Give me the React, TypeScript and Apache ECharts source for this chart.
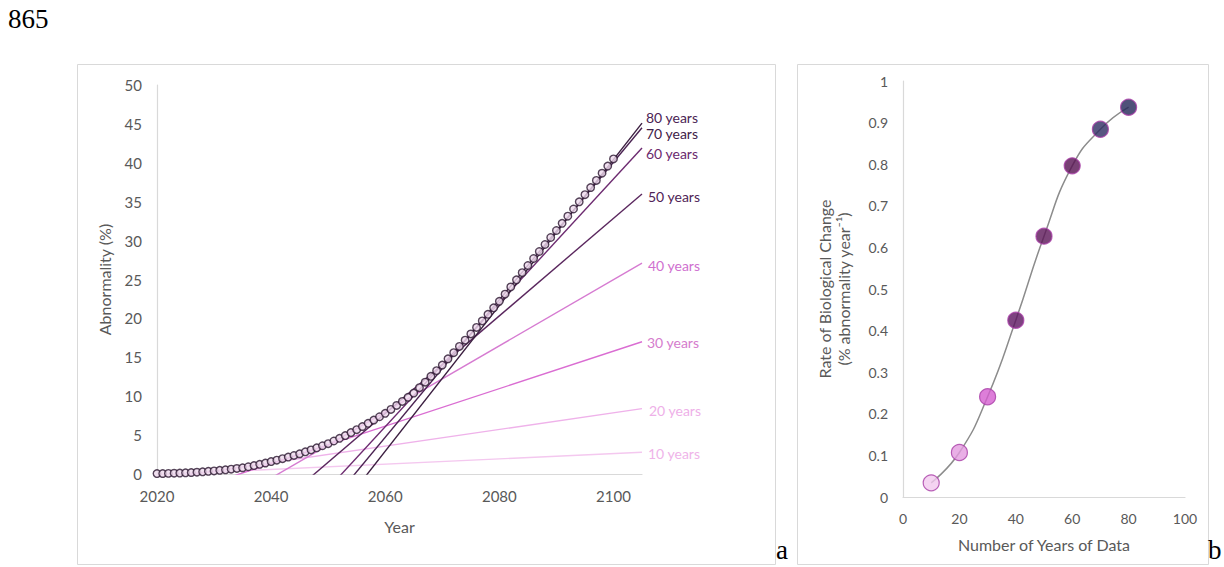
import React, { useEffect, useRef } from "react";
import * as echarts from "echarts";

// ---- Panel a: observed abnormality trajectory ----
const years = [
  2020, 2021, 2022, 2023, 2024, 2025, 2026, 2027, 2028, 2029,
  2030, 2031, 2032, 2033, 2034, 2035, 2036, 2037, 2038, 2039,
  2040, 2041, 2042, 2043, 2044, 2045, 2046, 2047, 2048, 2049,
  2050, 2051, 2052, 2053, 2054, 2055, 2056, 2057, 2058, 2059,
  2060, 2061, 2062, 2063, 2064, 2065, 2066, 2067, 2068, 2069,
  2070, 2071, 2072, 2073, 2074, 2075, 2076, 2077, 2078, 2079,
  2080, 2081, 2082, 2083, 2084, 2085, 2086, 2087, 2088, 2089,
  2090, 2091, 2092, 2093, 2094, 2095, 2096, 2097, 2098, 2099,
  2100,
];
const abnormality = [
  0.05, 0.06, 0.08, 0.1, 0.12, 0.15, 0.19, 0.23, 0.28, 0.34,
  0.4, 0.47, 0.54, 0.62, 0.71, 0.8, 0.93, 1.08, 1.24, 1.41,
  1.6, 1.78, 1.97, 2.17, 2.38, 2.6, 2.85, 3.1, 3.36, 3.63,
  3.9, 4.24, 4.58, 4.94, 5.32, 5.7, 6.1, 6.51, 6.93, 7.36,
  7.8, 8.3, 8.81, 9.33, 9.86, 10.4, 11.1, 11.8, 12.55, 13.28,
  14.0, 14.8, 15.6, 16.4, 17.2, 18.0, 18.84, 19.68, 20.52, 21.36,
  22.2, 23.12, 24.04, 24.96, 25.88, 26.8, 27.7, 28.6, 29.5, 30.4,
  31.3, 32.22, 33.14, 34.06, 34.98, 35.9, 36.82, 37.74, 38.66, 39.58,
  40.5,
];

// Linear fits (slope = rate, value at the axis end 2105)
const fitLabels = ["10 years", "20 years", "30 years", "40 years", "50 years", "60 years", "70 years", "80 years"];
const fitEndValues = [2.8, 8.4, 17.0, 27.1, 36.0, 41.9, 44.5, 45.1];
const fitFromYear = 2020;
const fitToYear = 2105;

// ---- Panel b: rate of change vs years of data ----
const yearsOfData = [10, 20, 30, 40, 50, 60, 70, 80];
const rateOfChange = [0.034, 0.107, 0.241, 0.425, 0.627, 0.796, 0.884, 0.937];

// styles
const fitLineColors = ["#f4c8ef", "#efb2ea", "#da6dd2", "#d67bd1", "#5a275e", "#6d2b70", "#4a2352", "#3b1e40"];
const fitLabelColors = ["#efb4e9", "#eeb0e8", "#d57ccd", "#cf70cf", "#4f2456", "#6b2a6e", "#3f2148", "#4b2454"];
const fitLabelOffsets = [[2, 1], [3, 2], [1, 1], [2, 2], [2, 3], [0, 5], [0, 6], [0, -6]];
const pointColors = ["#f3c9ef", "#e39be0", "#d45ecf", "#5c1460", "#5b1558", "#561251", "#2e2c62", "#232658"];

const FONT = "Lato, 'Open Sans', sans-serif";
const GREY = "#595959";
const SERIF = "27px 'Liberation Serif', 'Times New Roman', serif";

export default function App() {
  const ref = useRef<HTMLDivElement>(null);

  useEffect(() => {
    if (!ref.current) return;
    const chart = echarts.init(ref.current, undefined, { renderer: "svg" });

    const fitSeries = fitLabels.map((name, i) => {
      const rate = rateOfChange[i];
      const end = fitEndValues[i];
      return {
        type: "line",
        name,
        xAxisIndex: 0,
        yAxisIndex: 0,
        data: [
          [fitFromYear, end - (fitToYear - fitFromYear) * rate],
          [fitToYear, end],
        ],
        symbol: "none",
        clip: true,
        z: 2,
        lineStyle: { color: fitLineColors[i], width: 1.4 },
        endLabel: {
          show: true,
          formatter: "{a}",
          color: fitLabelColors[i],
          fontSize: 14,
          fontFamily: FONT,
          distance: 4,
          offset: fitLabelOffsets[i],
        },
      };
    });

    const plain = (v: number) => String(v);

    const option: any = {
      animation: false,
      backgroundColor: "#ffffff",
      textStyle: { fontFamily: FONT },
      grid: [
        { left: 157, top: 85, width: 485, height: 389 },
        { left: 903, top: 81, width: 282, height: 416 },
      ],
      xAxis: [
        {
          type: "value",
          gridIndex: 0,
          min: 2020,
          max: 2105,
          interval: 20,
          name: "Year",
          nameLocation: "middle",
          nameGap: 44,
          nameTextStyle: { color: GREY, fontSize: 16, fontFamily: FONT },
          axisLine: { lineStyle: { color: "#d9d9d9", width: 1.2 } },
          axisTick: { show: false },
          splitLine: { show: false },
          axisLabel: { color: GREY, fontSize: 15, fontFamily: FONT, margin: 14, showMaxLabel: false, formatter: plain },
        },
        {
          type: "value",
          gridIndex: 1,
          min: 0,
          max: 100,
          interval: 20,
          name: "Number of Years of Data",
          nameLocation: "middle",
          nameGap: 39,
          nameTextStyle: { color: GREY, fontSize: 16, fontFamily: FONT },
          axisLine: { lineStyle: { color: "#d9d9d9", width: 1.2 } },
          axisTick: { show: false },
          splitLine: { show: false },
          axisLabel: { color: GREY, fontSize: 14, fontFamily: FONT, margin: 14, formatter: plain },
        },
      ],
      yAxis: [
        {
          type: "value",
          gridIndex: 0,
          min: 0,
          max: 50,
          interval: 5,
          name: "Abnormality (%)",
          nameLocation: "middle",
          nameGap: 45,
          nameTextStyle: { color: GREY, fontSize: 16, fontFamily: FONT },
          axisLine: { show: true, lineStyle: { color: "#d9d9d9", width: 1.2 } },
          axisTick: { show: false },
          splitLine: { show: false },
          axisLabel: { color: GREY, fontSize: 15, fontFamily: FONT, margin: 15 },
        },
        {
          type: "value",
          gridIndex: 1,
          min: 0,
          max: 1,
          interval: 0.1,
          name: "Rate of Biological Change\n(% abnormality year⁻¹)",
          nameLocation: "middle",
          nameGap: 50,
          nameTextStyle: { color: GREY, fontSize: 16, fontFamily: FONT, lineHeight: 19 },
          axisLine: { show: true, lineStyle: { color: "#d9d9d9", width: 1.2 } },
          axisTick: { show: false },
          splitLine: { show: false },
          axisLabel: { color: GREY, fontSize: 14, fontFamily: FONT, margin: 15 },
        },
      ],
      series: [
        ...fitSeries,
        {
          type: "scatter",
          name: "Abnormality",
          xAxisIndex: 0,
          yAxisIndex: 0,
          data: years.map((y, i) => [y, abnormality[i]]),
          symbol: "circle",
          symbolSize: 7.5,
          z: 5,
          itemStyle: { color: "#eedaec", borderColor: "#2a1630", borderWidth: 1.4 },
        },
        {
          type: "line",
          name: "Trend",
          xAxisIndex: 1,
          yAxisIndex: 1,
          data: yearsOfData.map((n, i) => [n, rateOfChange[i]]),
          smooth: 0.5,
          symbol: "none",
          z: 2,
          lineStyle: { color: "#8c8c8c", width: 1.5 },
        },
        {
          type: "scatter",
          name: "Rate",
          xAxisIndex: 1,
          yAxisIndex: 1,
          data: yearsOfData.map((n, i) => ({
            value: [n, rateOfChange[i]],
            itemStyle: { color: pointColors[i] },
          })),
          symbol: "circle",
          symbolSize: 16,
          z: 5,
          itemStyle: { borderColor: "#a83ca6", borderWidth: 1.2 },
        },
      ],
      graphic: [
        {
          type: "rect",
          shape: { x: 77.5, y: 64.5, width: 698, height: 500 },
          style: { fill: "none", stroke: "#d9d9d9", lineWidth: 1 },
          silent: true,
        },
        {
          type: "rect",
          shape: { x: 797.5, y: 64.5, width: 411, height: 500 },
          style: { fill: "none", stroke: "#d9d9d9", lineWidth: 1 },
          silent: true,
        },
        {
          type: "text",
          x: 8,
          y: 19,
          style: { text: "865", fill: "#000000", font: SERIF, verticalAlign: "middle" },
          silent: true,
        },
        {
          type: "text",
          x: 776,
          y: 550,
          style: { text: "a", fill: "#000000", font: SERIF, verticalAlign: "middle" },
          silent: true,
        },
        {
          type: "text",
          x: 1208,
          y: 550,
          style: { text: "b", fill: "#000000", font: SERIF, verticalAlign: "middle" },
          silent: true,
        },
      ],
    };

    chart.setOption(option);
    return () => chart.dispose();
  }, []);

  return (
    <div
      ref={ref}
      style={{ position: "absolute", left: 0, top: 0, width: 1224, height: 567, background: "#fff" }}
    />
  );
}
